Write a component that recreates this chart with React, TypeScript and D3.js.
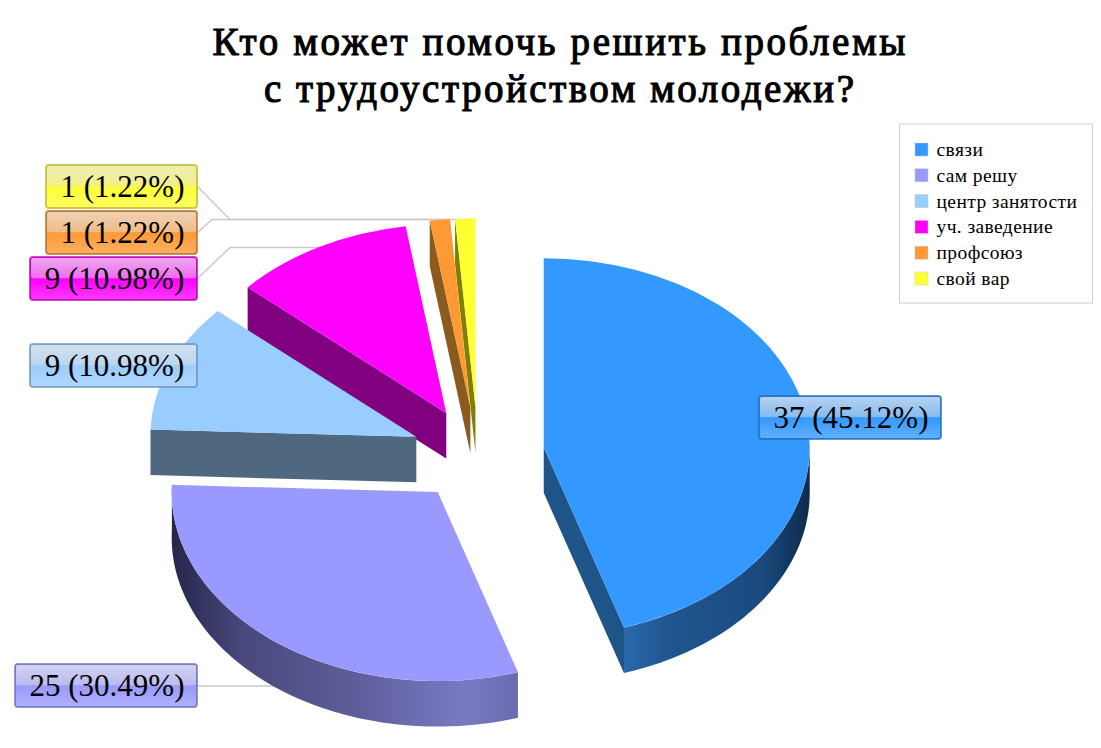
import React from 'react';
import * as d3 from 'd3';

const categories = ['связи', 'сам решу', 'центр занятости', 'уч. заведение', 'профсоюз', 'свой вар'];
const counts = [37, 25, 9, 9, 1, 1];
const percents = ['45.12', '30.49', '10.98', '10.98', '1.22', '1.22'];
const colors = ['#3399ff', '#9999ff', '#99ccff', '#ff00ff', '#ff9933', '#ffff33'];
const radialSideColors = ['#1f5488', '#4f4f88', '#4f6880', '#800080', '#8a5a1e', '#808000'];
const titleLines = ['Кто может помочь решить проблемы', 'с трудоустройством молодежи?'];
const titleWidths = [693, 590];

const FONT = '"Liberation Serif", "Times New Roman", serif';
const TAU = Math.PI * 2;

// pie geometry
const cx = 478;
const cy = 454.5;
const rx = 266;
const ry = 189;
const depth = 45.5;
const explode = 0.25;

// label boxes, in slice order
const labelBoxes = [
  { x: 759, y: 396, w: 182 },
  { x: 15, y: 664, w: 182 },
  { x: 30, y: 344, w: 167 },
  { x: 30, y: 257, w: 167 },
  { x: 46, y: 211, w: 151 },
  { x: 46, y: 165, w: 151 },
];

const leaderLines: [number, number][][] = [
  [[197, 686], [285, 686]],
  [[197, 279], [230, 247.5], [330, 247.5]],
  [[197, 233], [212, 219.5], [440, 219.5]],
  [[197, 186], [230, 219.5], [470, 219.5]],
];

const pie = d3.pie<number>().sort(null).value((d) => d);
const slices = pie(counts).map((s, i) => {
  const mid = (s.startAngle + s.endAngle) / 2;
  return {
    ...s,
    i,
    ox: cx + explode * rx * Math.sin(mid),
    oy: cy - explode * ry * Math.cos(mid),
  };
});

const rim = (s: { ox: number; oy: number }, a: number): [number, number] => [
  s.ox + rx * Math.sin(a),
  s.oy - ry * Math.cos(a),
];

const topArc = d3.arc<any>().innerRadius(0).outerRadius(rx);

const sideArea = d3
  .area<[number, number]>()
  .x((d) => d[0])
  .y0((d) => d[1])
  .y1((d) => d[1] + depth);

// the part of the outer wall that faces the viewer
const outerWall = (s: (typeof slices)[number]) => {
  const from = Math.max(s.startAngle, Math.PI / 2);
  const to = Math.min(s.endAngle, (Math.PI * 3) / 2 + 0.04);
  if (to <= from) return null;
  const pts = d3.range(0, 61).map((k) => rim(s, from + ((to - from) * k) / 60));
  return sideArea(pts);
};

const radialWall = (s: (typeof slices)[number], a: number) => {
  const p = rim(s, a);
  return sideArea([[s.ox, s.oy], p]);
};

const drawOrder = [5, 4, 3, 2, 1, 0];

const Label: React.FC<{ i: number }> = ({ i }) => {
  const b = labelBoxes[i];
  const h = 43;
  const c = d3.color(colors[i])!;
  return (
    <g>
      <rect x={b.x} y={b.y} width={b.w} height={h} rx={3} fill={colors[i]} stroke={c.darker(1).formatHex()} strokeOpacity={0.7} strokeWidth={2} />
      <rect x={b.x + 1} y={b.y + 1} width={b.w - 2} height={h * 0.47} rx={2} fill="url(#glassTop)" />
      <rect x={b.x + 1} y={b.y + h * 0.5} width={b.w - 2} height={h * 0.5 - 1} rx={2} fill="url(#glassBottom)" />
      <text x={b.x + b.w / 2 + 1} y={b.y + 32} textAnchor="middle" fontFamily={FONT} fontSize={31} fill="#000">
        {`${counts[i]} (${percents[i]}%)`}
      </text>
    </g>
  );
};

export default function App() {
  return (
    <svg width={1101} height={748} style={{ position: 'absolute', left: 0, top: 0, background: '#fff' }}>
      <defs>
        <linearGradient id="glassTop" x1="0" y1="0" x2="0" y2="1">
          <stop offset="0" stopColor="#e8e8e8" stopOpacity={0.72} />
          <stop offset="1" stopColor="#e0e0e0" stopOpacity={0.48} />
        </linearGradient>
        <linearGradient id="glassBottom" x1="0" y1="0" x2="0" y2="1">
          <stop offset="0" stopColor="#fff" stopOpacity={0} />
          <stop offset="1" stopColor="#fff" stopOpacity={0.22} />
        </linearGradient>
        <linearGradient id="wall0" x1="0" y1="0" x2="1" y2="0">
          <stop offset="0" stopColor="#2a69ab" />
          <stop offset="0.25" stopColor="#1f5590" />
          <stop offset="0.75" stopColor="#1a4a7e" />
          <stop offset="1" stopColor="#0d2a4a" />
        </linearGradient>
        <linearGradient id="wall1" x1="0" y1="0" x2="1" y2="0">
          <stop offset="0" stopColor="#24264a" />
          <stop offset="0.2" stopColor="#48487c" />
          <stop offset="0.55" stopColor="#5f5f9e" />
          <stop offset="0.85" stopColor="#7a7ac4" />
          <stop offset="1" stopColor="#6a6ab0" />
        </linearGradient>
      </defs>

      {titleLines.map((t, i) => (
        <text
          key={t}
          x={559}
          y={55 + i * 47}
          textAnchor="middle"
          fontFamily={FONT}
          fontSize={39}
          fill="#000"
          stroke="#000"
          strokeWidth={1.1}
          textLength={titleWidths[i]}
          lengthAdjust="spacing"
        >
          {t}
        </text>
      ))}

      <g fill="none" stroke="#c9c9c9" strokeWidth={1.5}>
        {leaderLines.map((l, i) => (
          <path key={i} d={d3.line()(l) ?? ''} />
        ))}
      </g>

      {drawOrder.map((idx) => {
        const s = slices[idx];
        const wall = outerWall(s);
        return (
          <g key={idx}>
            {s.startAngle > Math.PI && s.startAngle < TAU && (
              <path d={radialWall(s, s.startAngle) ?? ''} fill={radialSideColors[idx]} />
            )}
            {s.endAngle < Math.PI && s.endAngle > 0 && (
              <path d={radialWall(s, s.endAngle) ?? ''} fill={radialSideColors[idx]} />
            )}
            {wall && <path d={wall} fill={idx < 2 ? `url(#wall${idx})` : radialSideColors[idx]} />}
            <path
              transform={`translate(${s.ox},${s.oy}) scale(1,${ry / rx})`}
              d={topArc({ startAngle: s.startAngle, endAngle: s.endAngle }) ?? ''}
              fill={colors[idx]}
            />
          </g>
        );
      })}

      {categories.map((_, i) => (
        <Label key={i} i={i} />
      ))}

      <rect x={899.5} y={124} width={193} height={179} fill="#fff" stroke="#cccccc" />
      {categories.map((c, i) => (
        <g key={c}>
          <rect x={915} y={143 + i * 25.8} width={13} height={13} fill={colors[i]} stroke="#c8c8c8" strokeWidth={0.5} />
          <text x={936.5} y={156 + i * 25.8} fontFamily={FONT} fontSize={19.5} fill="#000" letterSpacing={0.4}>
            {c}
          </text>
        </g>
      ))}
    </svg>
  );
}
